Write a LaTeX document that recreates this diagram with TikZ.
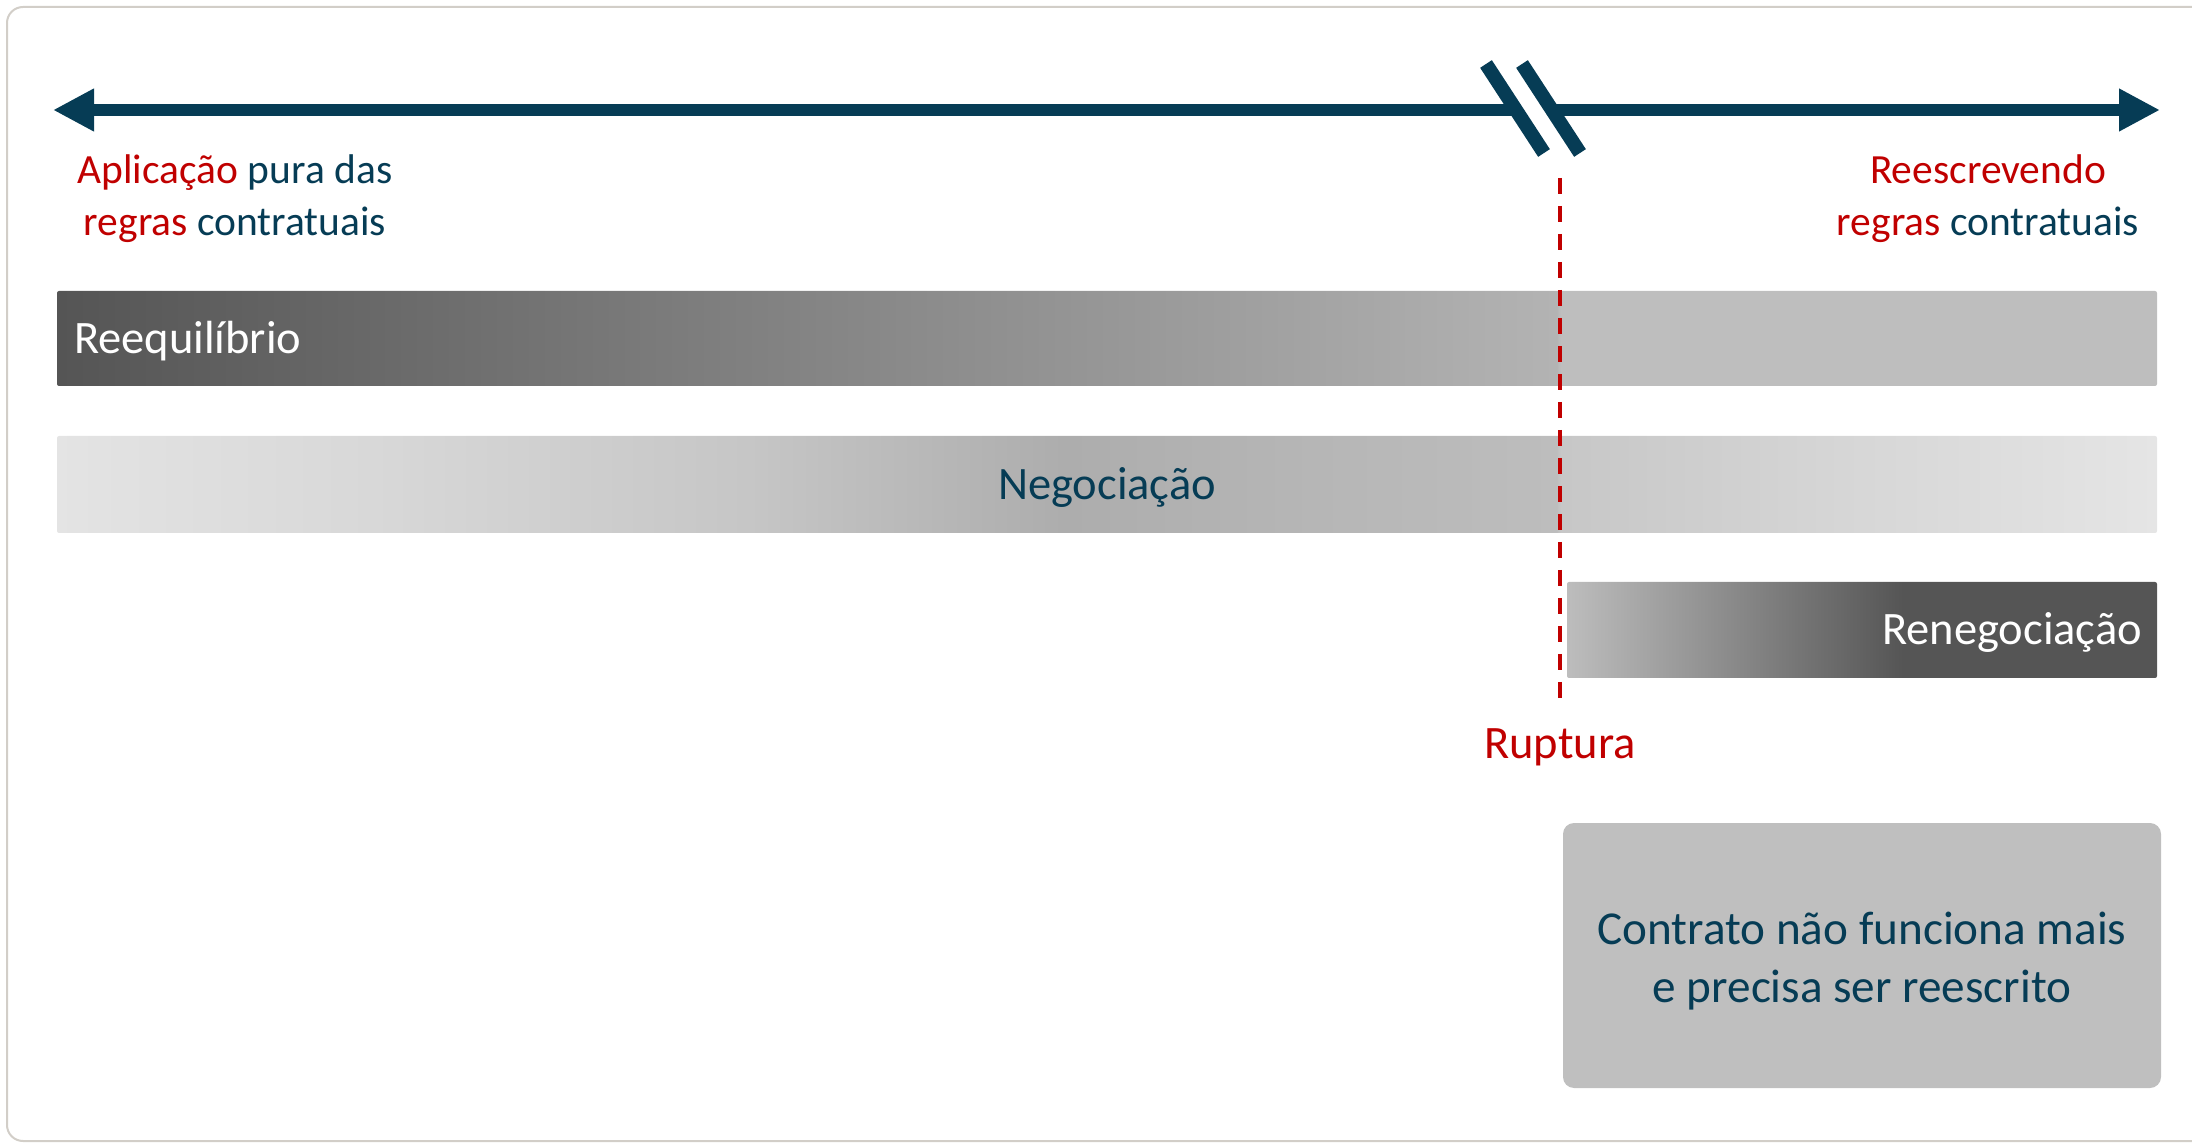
\documentclass[tikz,border=0pt]{standalone}
\usepackage{fontspec}
\setmainfont{Carlito}
\usepackage{xcolor}
\usepackage{tikz}
\usetikzlibrary{arrows.meta,positioning}

\definecolor{tealdk}{RGB}{6,60,85}
\definecolor{rupred}{RGB}{192,0,0}
\definecolor{framegray}{RGB}{210,206,200}
\definecolor{boxgray}{RGB}{191,191,191}

\pgfdeclarehorizontalshading{reeqshade}{100bp}{gray(0bp)=(0.333); gray(25bp)=(0.333);
  gray(60.7bp)=(0.702); gray(60.8bp)=(0.745); gray(100bp)=(0.745)}
\pgfdeclarehorizontalshading{negoshade}{100bp}{gray(0bp)=(0.894); gray(25bp)=(0.894);
  gray(26bp)=(0.886); gray(32.5bp)=(0.847); gray(41.5bp)=(0.776); gray(49bp)=(0.678);
  gray(55bp)=(0.714); gray(60.7bp)=(0.741); gray(60.8bp)=(0.780); gray(67.5bp)=(0.839);
  gray(75bp)=(0.898); gray(100bp)=(0.898)}
\pgfdeclarehorizontalshading{renegshade}{100bp}{gray(0bp)=(0.741); gray(25bp)=(0.741);
  gray(53.5bp)=(0.333); gray(100bp)=(0.333)}

\newcommand{\hlred}[1]{\textcolor{rupred}{#1}}

\tikzset{
  phase/.style    = {shade, inner sep=0pt, minimum height=47.5pt, rounded corners=1pt},
  phasetxt/.style = {font=\fontsize{23.25}{28}\selectfont, inner sep=0pt, yshift=-1.5pt},
  lbl/.style      = {align=center, text=tealdk, inner sep=0pt,
                     font=\fontsize{20.75}{26}\selectfont},
  axisln/.style   = {tealdk, line width=6pt},
  tipL/.style     = {-{Triangle[length=20.5pt,width=20pt]}},
  brk/.style      = {tealdk, line width=7pt},
  cut/.style      = {rupred, line width=2pt, dash pattern=on 8pt off 6pt},
  note/.style     = {fill=boxgray, rounded corners=5.5pt, minimum width=299pt,
                     minimum height=132.5pt, inner sep=0pt},
  notetxt/.style  = {align=center, text=tealdk, inner sep=0pt,
                     font=\fontsize{23.6}{29}\selectfont},
}

\begin{document}
\begin{tikzpicture}[x=0.5pt, y=-0.5pt]
\useasboundingbox (0,0) rectangle (2192,1144);

% ===== frame =====
\draw[framegray, line width=1pt, rounded corners=8pt]
     (2300,7) -- (7,7) -- (7,1141) -- (2300,1141);

% ===== time axis with break =====
\coordinate (ltip) at (53,110);
\coordinate (rtip) at (2160,110);
\coordinate (brkL) at (1516,110);
\coordinate (brkR) at (1552,110);
\coordinate (b1top) at (1486,64);
\coordinate (b1bot) at (1544,153);
\coordinate (b2top) at (1522,64);
\coordinate (b2bot) at (1580,153);
\draw[axisln, tipL] (brkL) -- (ltip);
\draw[axisln, tipL] (brkR) -- (rtip);
\draw[brk] (b1top) -- (b1bot);
\draw[brk] (b2top) -- (b2bot);

\node[lbl] (lpure) at (235,199)
     {\hlred{Aplicação} pura das\\\hlred{regras} contratuais};
\node[lbl] (lrewrite) at (1988,199)
     {\hlred{Reescrevendo}\\\hlred{regras} contratuais};

% ===== phases =====
\node[phase, shading=reeqshade, minimum width=1050pt] (reeq) at (1107,338.5) {};
\node[phase, shading=negoshade, minimum width=1050pt, minimum height=48.5pt] (nego) at (1107,484.5) {};
\node[phase, shading=renegshade, minimum width=295pt, minimum height=48pt] (reneg) at (1862,630) {};

\node[phasetxt, text=white, anchor=west] (reeqtxt) at ([xshift=8.5pt]reeq.west) {Reequilíbrio};
\node[phasetxt, text=tealdk] (negotxt) at (nego.center) {Negociação};
\node[phasetxt, text=white, anchor=east] (renegtxt) at ([xshift=-7.5pt]reneg.east) {Renegociação};

% ===== rupture =====
\coordinate (cuttop) at (1560,178);
\coordinate (cutbot) at (1560,699);
\draw[cut] (cuttop) -- (cutbot);
\node[phasetxt, text=rupred] (rup) at (1560,744) {Ruptura};

\node[note] (rewrite) at (1862,955.5) {};
\node[notetxt] (rewritetxt) at ([yshift=-2.8pt]rewrite.center)
     {Contrato não funciona mais\\e precisa ser reescrito};
\end{tikzpicture}
\end{document}
